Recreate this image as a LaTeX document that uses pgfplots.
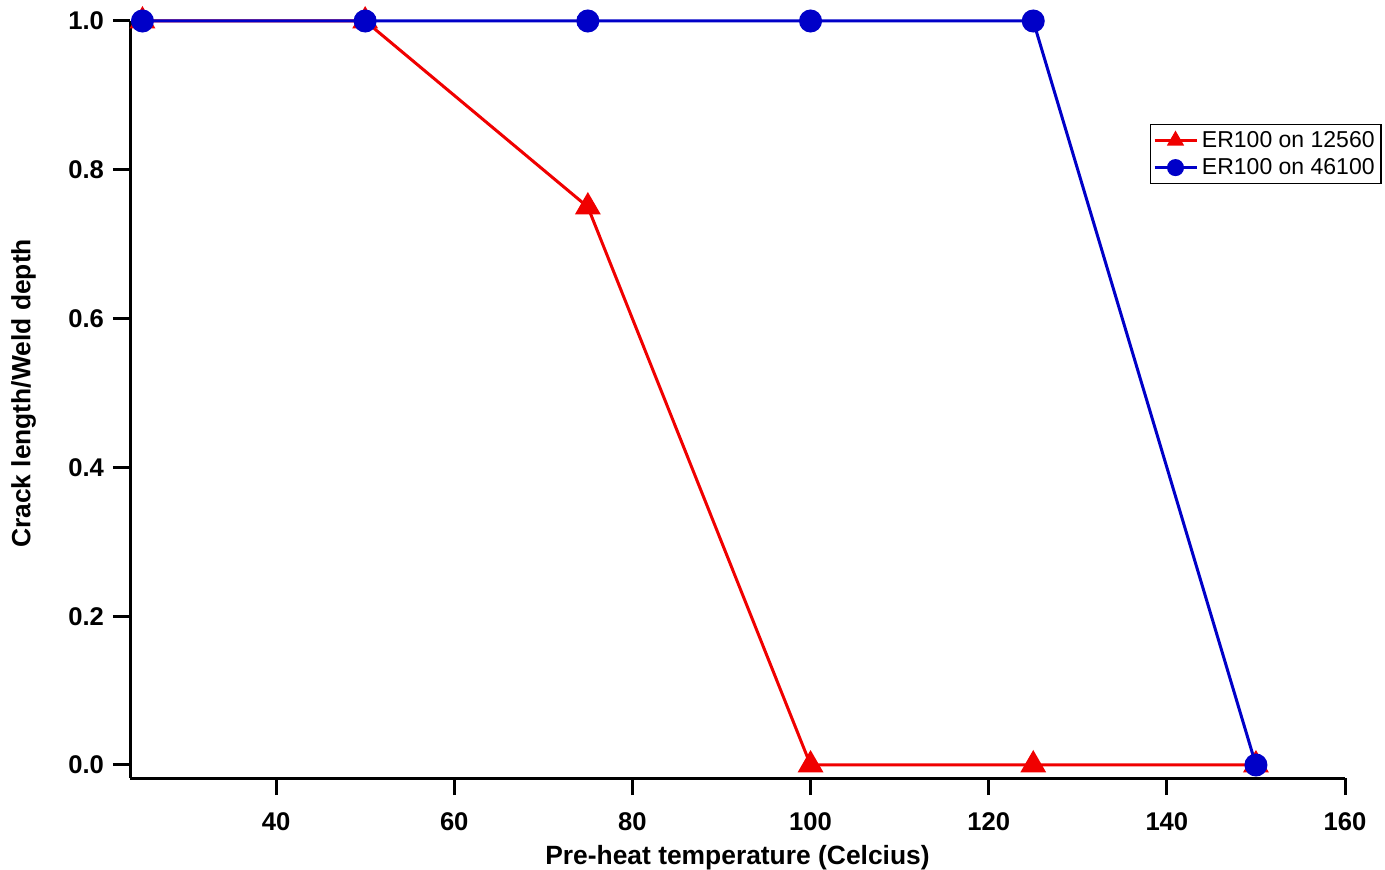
\documentclass[border=0pt]{standalone}
\usepackage{pgfplots}
\pgfplotsset{compat=1.18}
\usepackage{fontspec}
\setmainfont{Liberation Sans}
\definecolor{cred}{RGB}{240,0,0}
\definecolor{cblue}{RGB}{0,0,200}
\begin{document}
\begin{tikzpicture}
\useasboundingbox (0,0) rectangle (692.5pt,434.5pt);
\begin{axis}[
  at={(65pt,45.5pt)}, anchor=south west,
  width=607.5pt, height=378.5pt, scale only axis,
  xmin=23.6, xmax=160, ymin=-0.0175, ymax=1.0,
  axis x line*=bottom, axis y line*=left,
  axis line style={line width=1.5pt, -},
  xtick={40,60,...,160}, ytick={0,0.2,...,1.0},
  tick align=outside, major tick length=8.5pt,
  every tick/.style={line width=1.5pt, black},
  minor tick num=0,
  /pgf/number format/assume math mode=true,
  yticklabel style={/pgf/number format/fixed,/pgf/number format/fixed zerofill,/pgf/number format/precision=1, xshift=-1pt},
  xticklabel style={yshift=-5.5pt},
  tick label style={font=\bfseries\fontsize{12.8}{14}\selectfont},
  xlabel={Pre-heat temperature (Celcius)},
  ylabel={Crack length/Weld depth},
  label style={font=\bfseries\fontsize{13.2}{15}\selectfont},
  xlabel style={at={(axis description cs:0.5,-0.1055)}, anchor=center},
  ylabel style={at={(axis description cs:-0.0875,0.508)}, anchor=center, rotate=0},
  clip=false,
  legend style={at={(0.8395,0.8639)}, anchor=north west, draw=black, line width=0.6pt,
    font=\fontsize{11.5}{13.5}\selectfont, inner sep=1.2pt, row sep=0pt,
    legend cell align=left},
  legend image post style={line width=1.5pt},
  legend image code/.code={\draw[#1] (0pt,0pt) -- (21pt,0pt); \draw[#1,only marks, mark size=3.5pt] plot coordinates {(10.5pt,0pt)};},
]
\addplot[color=cred, line width=1.5pt, mark=triangle*, mark size=6pt, mark options={solid}] coordinates {
 (25,1) (50,1) (75,0.75) (100,0) (125,0) (150,0)};
\addlegendentry{ER100 on 12560}
\addplot[color=cblue, line width=1.5pt, mark=*, mark size=5pt] coordinates {
 (25,1) (50,1) (75,1) (100,1) (125,1) (150,0)};
\addlegendentry{ER100 on 46100}
\end{axis}
\end{tikzpicture}
\end{document}
